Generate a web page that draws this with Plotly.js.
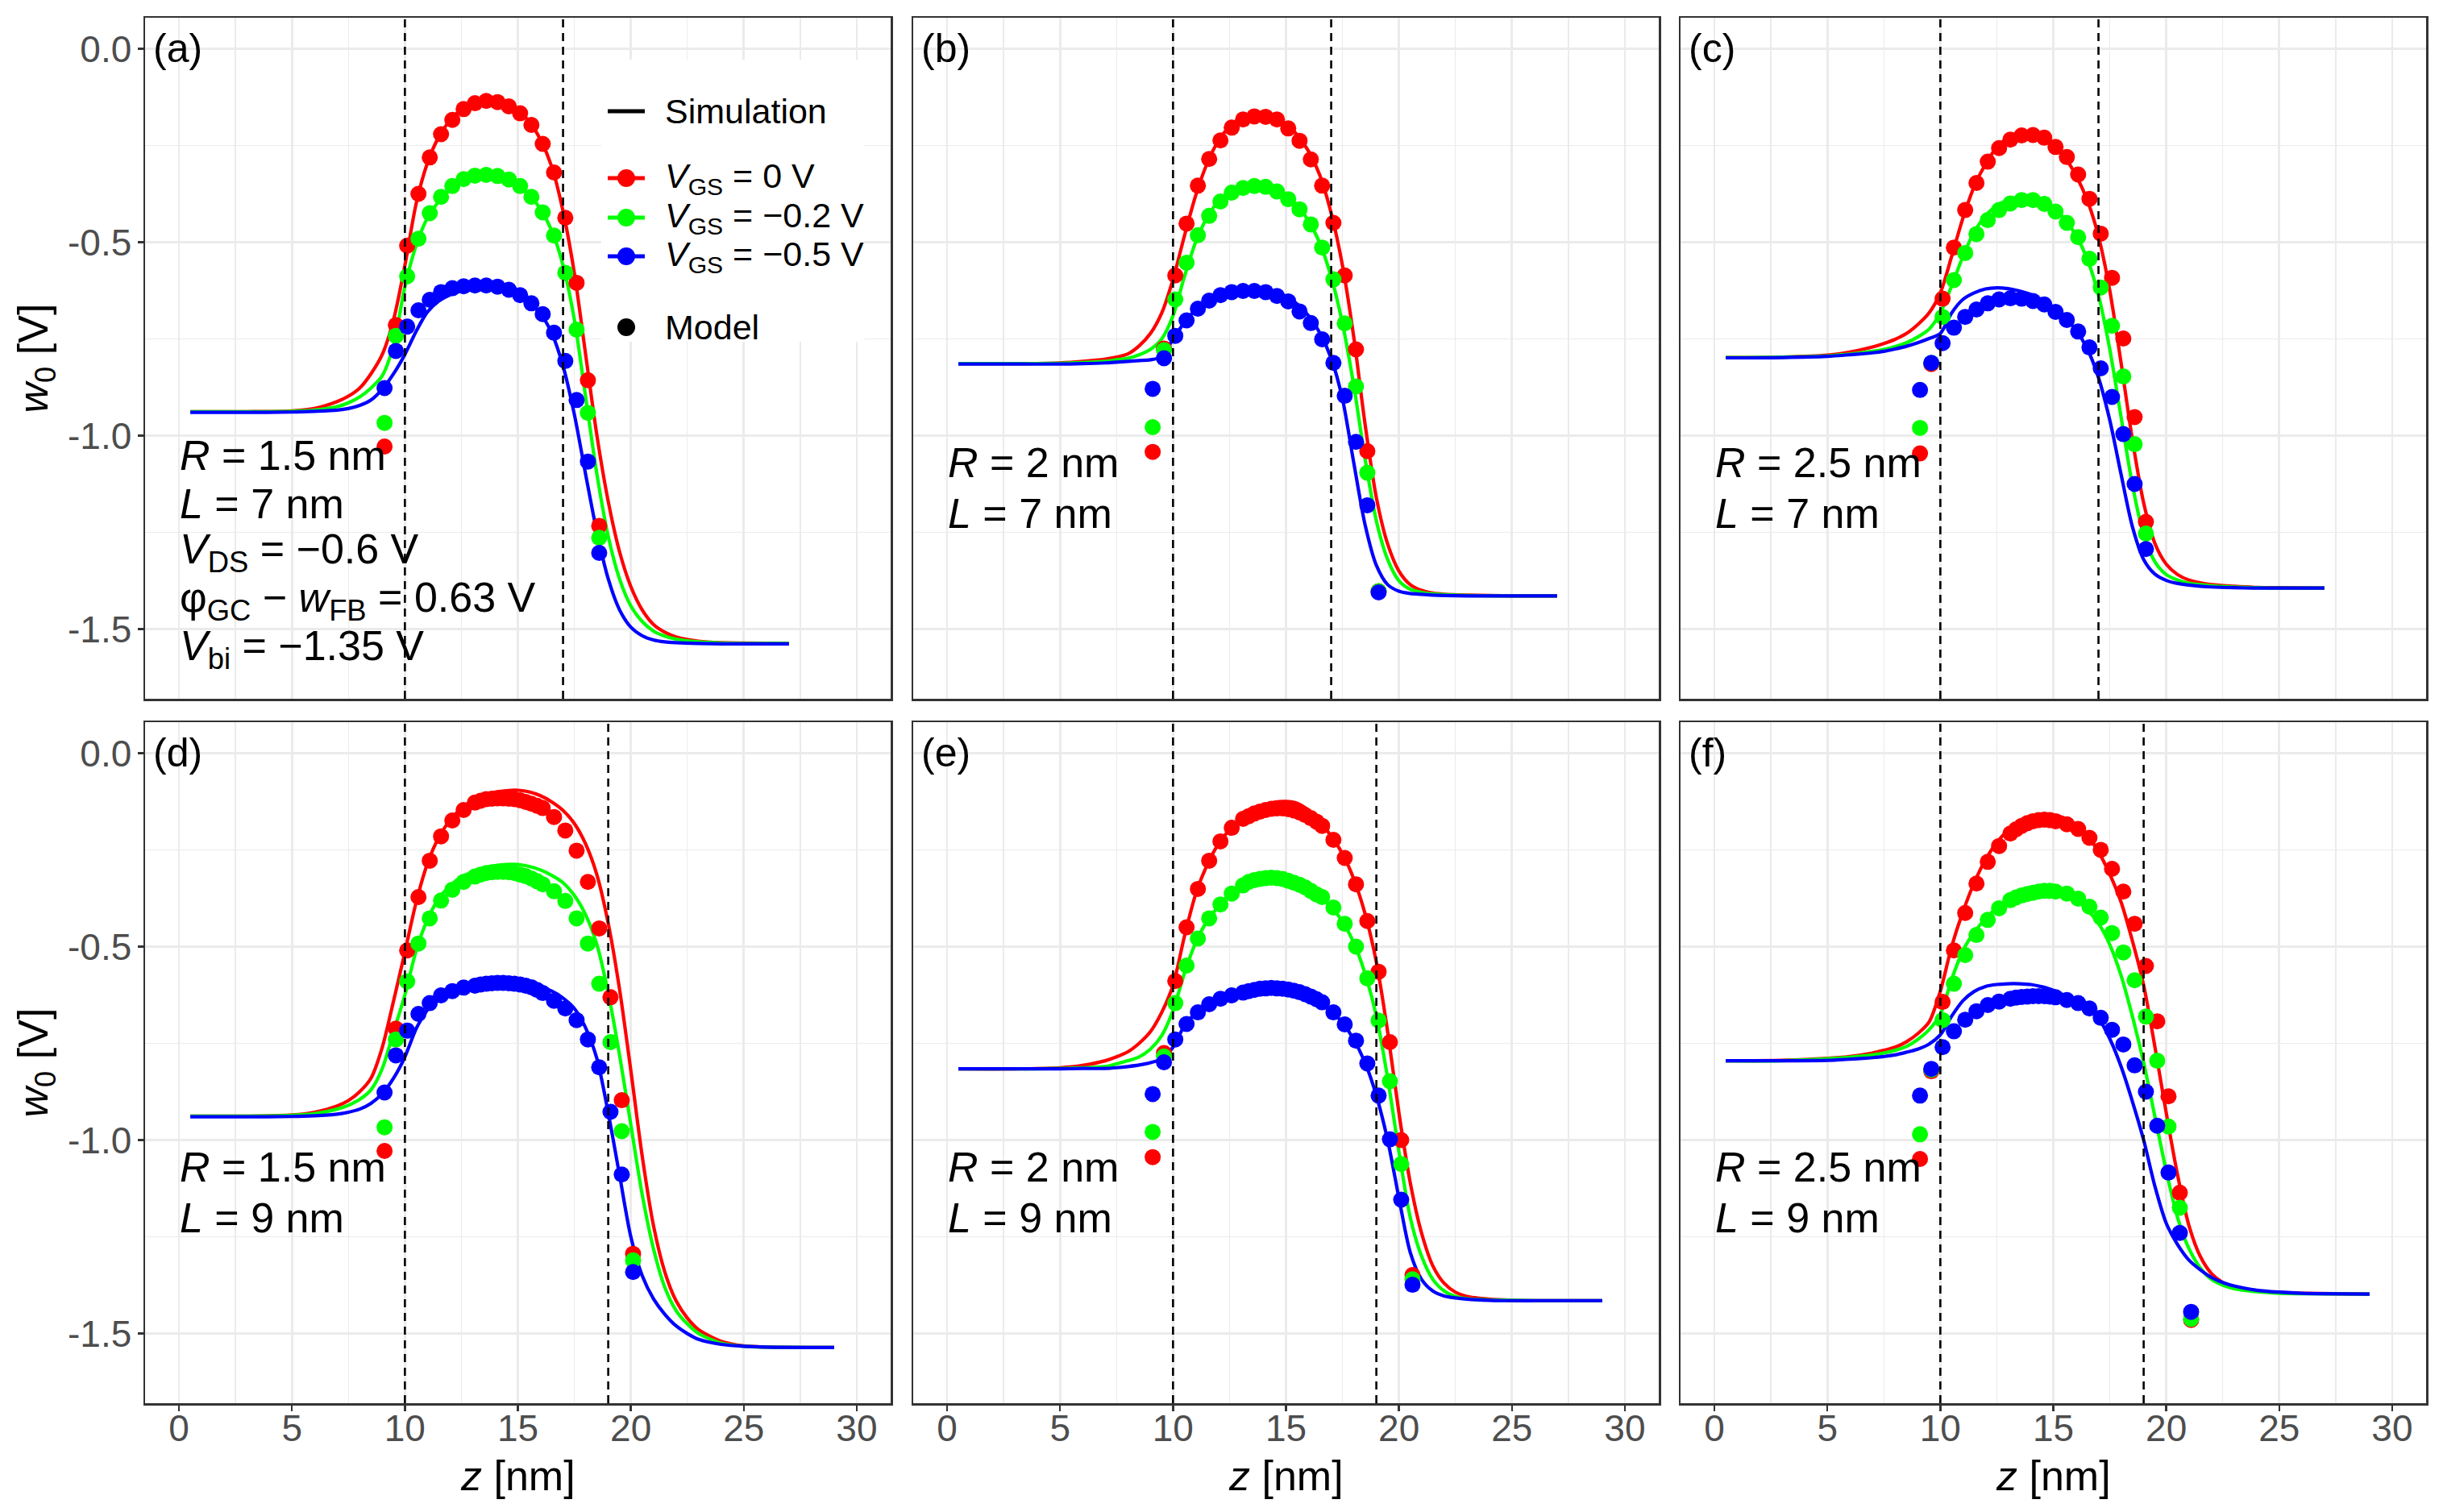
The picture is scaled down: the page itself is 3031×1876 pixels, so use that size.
<!DOCTYPE html>
<html>
<head>
<meta charset="utf-8">
<script src="https://cdn.plot.ly/plotly-3.0.1.min.js"></script>
<style>
  html, body { margin: 0; padding: 0; background: #ffffff; }
  #chart { width: 3031px; height: 1876px; }
</style>
</head>
<body>
<div id="chart"></div>
<script>

// ---------- data ----------

// simulation grids (L = 7 nm row, L = 9 nm row)
var zSim7 = [0.5, 3, 5, 6, 7, 7.5, 8, 8.5, 9, 9.5, 10, 10.5, 11, 11.5, 12, 12.5, 13, 13.5, 14, 14.5,
             15, 15.5, 16, 16.5, 17, 17.5, 18, 18.5, 19, 19.5, 20, 20.5, 21, 21.5, 22, 23, 24, 25, 27]
var zSim9 = [0.5, 3, 5, 6, 7, 7.5, 8, 8.5, 9, 9.5, 10, 10.5, 11, 11.5, 12, 12.5, 13, 13.5, 14, 14.5,
             15, 15.5, 16, 16.5, 17, 17.5, 18, 18.5, 19, 19.5, 20, 20.5, 21, 21.5, 22, 22.5, 23, 24, 25, 26, 29]

// model grids
var zModA  = [9.1, 9.6, 10.1, 10.6, 11.1, 11.6, 12.1, 12.6, 13.1, 13.6, 14.1, 14.6, 15.1, 15.6, 16.1, 16.6, 17.1, 17.6, 18.1, 18.6]
var zModBC = [9.1, 9.6, 10.1, 10.6, 11.1, 11.6, 12.1, 12.6, 13.1, 13.6, 14.1, 14.6, 15.1, 15.6, 16.1, 16.6, 17.1, 17.6, 18.1, 18.6, 19.1]
var zModD  = [9.1, 9.6, 10.1, 10.6, 11.1, 11.6, 12.1, 12.6, 13.1, 13.35, 13.6, 13.85, 14.1, 14.35, 14.6, 14.85, 15.1, 15.35, 15.6, 15.85,
              16.1, 16.6, 17.1, 17.6, 18.1, 18.6, 19.1, 19.6, 20.1]
var zModE  = [9.1, 9.6, 10.1, 10.6, 11.1, 11.6, 12.1, 12.6, 13.1, 13.35, 13.6, 13.85, 14.1, 14.35, 14.6, 14.85, 15.1, 15.35, 15.6, 15.85,
              16.1, 16.35, 16.6, 17.1, 17.6, 18.1, 18.6, 19.1, 19.6, 20.1, 20.6]
var zModF  = [9.1, 9.6, 10.1, 10.6, 11.1, 11.6, 12.1, 12.6, 13.1, 13.35, 13.6, 13.85, 14.1, 14.35, 14.6, 14.85, 15.1, 15.6, 16.1, 16.6,
              17.1, 17.6, 18.1, 18.6, 19.1, 19.6, 20.1, 20.6, 21.1]

// (a) R = 1.5 nm, L = 7 nm
var a_sim0  = [-0.938, -0.938, -0.936, -0.930, -0.912, -0.898, -0.877, -0.840, -0.790, -0.700, -0.560, -0.400, -0.295, -0.228, -0.185, -0.157, -0.141, -0.134, -0.135, -0.143,
               -0.160, -0.188, -0.235, -0.305, -0.420, -0.580, -0.790, -1.000, -1.170, -1.300, -1.390, -1.450, -1.488, -1.508, -1.520, -1.531, -1.535, -1.536, -1.537]
var a_sim02 = [-0.938, -0.938, -0.937, -0.934, -0.925, -0.915, -0.900, -0.877, -0.845, -0.765, -0.615, -0.508, -0.437, -0.395, -0.364, -0.345, -0.334, -0.329, -0.330, -0.337,
               -0.351, -0.376, -0.415, -0.470, -0.560, -0.700, -0.900, -1.100, -1.260, -1.370, -1.440, -1.480, -1.505, -1.518, -1.526, -1.533, -1.536, -1.537, -1.537]
var a_sim05 = [-0.940, -0.940, -0.939, -0.937, -0.934, -0.930, -0.922, -0.908, -0.880, -0.840, -0.790, -0.730, -0.680, -0.652, -0.636, -0.626, -0.621, -0.620, -0.621, -0.627,
               -0.638, -0.656, -0.685, -0.735, -0.820, -0.945, -1.100, -1.250, -1.370, -1.450, -1.495, -1.517, -1.528, -1.533, -1.535, -1.537, -1.538, -1.538, -1.538]
var a_mod0  = [-1.028, -0.714, -0.509, -0.375, -0.281, -0.221, -0.184, -0.156, -0.141, -0.135, -0.138, -0.149, -0.167, -0.197, -0.246, -0.320, -0.437, -0.605, -0.857, -1.233]
var a_mod02 = [-0.967, -0.742, -0.588, -0.491, -0.425, -0.383, -0.355, -0.337, -0.328, -0.326, -0.329, -0.338, -0.355, -0.383, -0.423, -0.483, -0.579, -0.726, -0.941, -1.264]
var a_mod05 = [-0.877, -0.781, -0.718, -0.676, -0.649, -0.629, -0.619, -0.614, -0.612, -0.612, -0.615, -0.623, -0.637, -0.658, -0.686, -0.734, -0.807, -0.908, -1.067, -1.303]

// (b) R = 2 nm, L = 7 nm
var b_sim0  = [-0.814, -0.814, -0.812, -0.808, -0.802, -0.797, -0.789, -0.768, -0.736, -0.683, -0.596, -0.485, -0.380, -0.298, -0.239, -0.202, -0.181, -0.172, -0.172, -0.179,
               -0.195, -0.223, -0.265, -0.327, -0.425, -0.560, -0.745, -0.970, -1.160, -1.280, -1.350, -1.385, -1.400, -1.407, -1.410, -1.412, -1.413, -1.414, -1.414]
var b_sim02 = [-0.814, -0.814, -0.813, -0.811, -0.808, -0.804, -0.800, -0.791, -0.777, -0.750, -0.690, -0.590, -0.500, -0.437, -0.395, -0.370, -0.357, -0.352, -0.354, -0.362,
               -0.378, -0.405, -0.445, -0.503, -0.590, -0.710, -0.870, -1.060, -1.220, -1.320, -1.375, -1.397, -1.405, -1.409, -1.411, -1.413, -1.414, -1.414, -1.414]
var b_sim05 = [-0.815, -0.815, -0.815, -0.814, -0.812, -0.810, -0.808, -0.806, -0.804, -0.796, -0.750, -0.708, -0.675, -0.651, -0.635, -0.626, -0.621, -0.620, -0.622, -0.628,
               -0.640, -0.660, -0.690, -0.735, -0.800, -0.905, -1.070, -1.230, -1.335, -1.385, -1.402, -1.408, -1.410, -1.412, -1.413, -1.414, -1.414, -1.414, -1.414]
var b_mod0  = [-1.042, -0.775, -0.586, -0.452, -0.354, -0.285, -0.237, -0.204, -0.183, -0.175, -0.176, -0.183, -0.206, -0.238, -0.286, -0.354, -0.450, -0.586, -0.777, -1.040, -1.402]
var b_mod02 = [-0.978, -0.779, -0.648, -0.553, -0.482, -0.432, -0.395, -0.372, -0.360, -0.355, -0.357, -0.369, -0.389, -0.415, -0.454, -0.514, -0.596, -0.710, -0.873, -1.096, -1.402]
var b_mod05 = [-0.879, -0.800, -0.742, -0.702, -0.672, -0.651, -0.637, -0.629, -0.626, -0.626, -0.629, -0.639, -0.653, -0.679, -0.709, -0.751, -0.812, -0.897, -1.016, -1.180, -1.405]

// (c) R = 2.5 nm, L = 7 nm
var c_sim0  = [-0.798, -0.797, -0.792, -0.784, -0.771, -0.762, -0.751, -0.736, -0.713, -0.683, -0.631, -0.537, -0.438, -0.356, -0.298, -0.255, -0.230, -0.217, -0.215, -0.225,
               -0.247, -0.280, -0.327, -0.391, -0.485, -0.625, -0.812, -1.010, -1.174, -1.279, -1.332, -1.359, -1.373, -1.380, -1.385, -1.389, -1.392, -1.393, -1.394]
var c_sim02 = [-0.798, -0.797, -0.794, -0.789, -0.782, -0.777, -0.770, -0.760, -0.745, -0.725, -0.683, -0.613, -0.537, -0.473, -0.432, -0.405, -0.391, -0.384, -0.386, -0.395,
               -0.412, -0.440, -0.482, -0.543, -0.637, -0.777, -0.952, -1.127, -1.256, -1.326, -1.359, -1.373, -1.381, -1.385, -1.388, -1.391, -1.393, -1.394, -1.394]
var c_sim05 = [-0.799, -0.798, -0.795, -0.791, -0.786, -0.782, -0.776, -0.769, -0.760, -0.749, -0.736, -0.683, -0.648, -0.631, -0.621, -0.618, -0.620, -0.626, -0.635, -0.649,
               -0.670, -0.694, -0.727, -0.775, -0.850, -0.960, -1.100, -1.235, -1.320, -1.358, -1.374, -1.382, -1.386, -1.389, -1.391, -1.393, -1.394, -1.394, -1.394]
var c_mod0  = [-1.046, -0.815, -0.646, -0.514, -0.417, -0.347, -0.292, -0.257, -0.235, -0.224, -0.223, -0.230, -0.254, -0.280, -0.325, -0.388, -0.478, -0.592, -0.749, -0.952, -1.223]
var c_mod02 = [-0.980, -0.812, -0.693, -0.598, -0.528, -0.479, -0.443, -0.417, -0.400, -0.391, -0.391, -0.401, -0.421, -0.450, -0.487, -0.543, -0.617, -0.716, -0.847, -1.022, -1.253]
var c_mod05 = [-0.882, -0.812, -0.761, -0.721, -0.693, -0.674, -0.658, -0.648, -0.645, -0.646, -0.652, -0.661, -0.680, -0.701, -0.731, -0.772, -0.826, -0.900, -0.996, -1.125, -1.293]

// (d) R = 1.5 nm, L = 9 nm
var d_sim0  = [-0.938, -0.938, -0.935, -0.928, -0.912, -0.898, -0.875, -0.840, -0.760, -0.640, -0.514, -0.385, -0.285, -0.218, -0.173, -0.143, -0.122, -0.109, -0.101, -0.097,
               -0.096, -0.100, -0.110, -0.126, -0.148, -0.182, -0.235, -0.315, -0.440, -0.610, -0.820, -1.040, -1.220, -1.340, -1.415, -1.460, -1.490, -1.520, -1.532, -1.535, -1.536]
var d_sim02 = [-0.938, -0.938, -0.936, -0.932, -0.920, -0.910, -0.895, -0.870, -0.815, -0.720, -0.625, -0.510, -0.430, -0.376, -0.343, -0.320, -0.307, -0.297, -0.291, -0.288,
               -0.288, -0.293, -0.302, -0.316, -0.335, -0.368, -0.418, -0.495, -0.620, -0.780, -0.960, -1.140, -1.280, -1.380, -1.440, -1.475, -1.500, -1.525, -1.533, -1.535, -1.536]
var d_sim05 = [-0.940, -0.940, -0.939, -0.937, -0.933, -0.928, -0.920, -0.905, -0.880, -0.840, -0.785, -0.712, -0.663, -0.630, -0.612, -0.603, -0.597, -0.595, -0.594, -0.594,
               -0.596, -0.600, -0.605, -0.615, -0.633, -0.660, -0.710, -0.790, -0.930, -1.090, -1.250, -1.350, -1.410, -1.450, -1.480, -1.500, -1.515, -1.528, -1.533, -1.535, -1.536]
var d_mod0  = [-1.028, -0.712, -0.510, -0.372, -0.278, -0.215, -0.174, -0.147, -0.128, -0.123, -0.119, -0.118, -0.117, -0.117, -0.118, -0.119, -0.122, -0.126, -0.131, -0.136,
               -0.142, -0.165, -0.200, -0.252, -0.333, -0.453, -0.631, -0.897, -1.294]
var d_mod02 = [-0.967, -0.740, -0.590, -0.492, -0.427, -0.381, -0.353, -0.333, -0.319, -0.314, -0.310, -0.308, -0.307, -0.307, -0.308, -0.310, -0.314, -0.318, -0.324, -0.331,
               -0.339, -0.357, -0.382, -0.427, -0.492, -0.596, -0.747, -0.977, -1.311]
var d_mod05 = [-0.877, -0.781, -0.717, -0.674, -0.646, -0.626, -0.615, -0.606, -0.601, -0.598, -0.596, -0.595, -0.594, -0.594, -0.595, -0.596, -0.598, -0.601, -0.605, -0.612,
               -0.620, -0.640, -0.660, -0.690, -0.740, -0.812, -0.927, -1.089, -1.341]

// (e) R = 2 nm, L = 9 nm
var e_sim0  = [-0.816, -0.816, -0.813, -0.807, -0.795, -0.785, -0.772, -0.750, -0.720, -0.670, -0.600, -0.475, -0.365, -0.290, -0.236, -0.198, -0.171, -0.150, -0.136, -0.127,
               -0.125, -0.130, -0.148, -0.178, -0.214, -0.260, -0.325, -0.415, -0.540, -0.720, -0.930, -1.110, -1.240, -1.325, -1.370, -1.393, -1.404, -1.411, -1.414, -1.415, -1.415]
var e_sim02 = [-0.816, -0.816, -0.815, -0.813, -0.810, -0.803, -0.795, -0.785, -0.765, -0.730, -0.665, -0.570, -0.490, -0.435, -0.397, -0.367, -0.347, -0.333, -0.325, -0.322,
               -0.324, -0.332, -0.347, -0.370, -0.397, -0.435, -0.490, -0.570, -0.680, -0.840, -1.030, -1.200, -1.300, -1.360, -1.390, -1.404, -1.410, -1.413, -1.414, -1.415, -1.415]
var e_sim05 = [-0.816, -0.816, -0.816, -0.815, -0.815, -0.813, -0.810, -0.806, -0.800, -0.790, -0.760, -0.705, -0.672, -0.651, -0.637, -0.627, -0.620, -0.614, -0.610, -0.608,
               -0.610, -0.616, -0.627, -0.642, -0.665, -0.697, -0.740, -0.800, -0.885, -1.000, -1.150, -1.290, -1.360, -1.390, -1.403, -1.408, -1.411, -1.414, -1.415, -1.415, -1.415]
var e_mod0  = [-1.044, -0.775, -0.589, -0.450, -0.351, -0.278, -0.228, -0.193, -0.170, -0.163, -0.156, -0.151, -0.147, -0.144, -0.143, -0.143, -0.145, -0.148, -0.153, -0.160,
               -0.168, -0.177, -0.188, -0.224, -0.271, -0.339, -0.434, -0.565, -0.747, -1.000, -1.349]
var e_mod02 = [-0.979, -0.784, -0.646, -0.549, -0.479, -0.427, -0.391, -0.363, -0.342, -0.333, -0.328, -0.325, -0.323, -0.322, -0.323, -0.325, -0.330, -0.335, -0.340, -0.347,
               -0.356, -0.365, -0.372, -0.399, -0.441, -0.500, -0.582, -0.691, -0.848, -1.062, -1.360]
var e_mod05 = [-0.881, -0.799, -0.740, -0.700, -0.670, -0.649, -0.635, -0.626, -0.619, -0.615, -0.612, -0.609, -0.608, -0.607, -0.608, -0.609, -0.611, -0.614, -0.618, -0.623,
               -0.629, -0.636, -0.644, -0.670, -0.701, -0.743, -0.802, -0.885, -0.998, -1.154, -1.374]

// (f) R = 2.5 nm, L = 9 nm
var f_sim0  = [-0.795, -0.794, -0.789, -0.784, -0.775, -0.768, -0.760, -0.746, -0.725, -0.695, -0.615, -0.500, -0.410, -0.335, -0.275, -0.231, -0.200, -0.180, -0.167, -0.161,
               -0.161, -0.168, -0.185, -0.213, -0.255, -0.313, -0.385, -0.485, -0.600, -0.760, -0.930, -1.090, -1.220, -1.300, -1.345, -1.368, -1.380, -1.390, -1.394, -1.396, -1.398]
var f_sim02 = [-0.795, -0.795, -0.790, -0.786, -0.780, -0.775, -0.768, -0.758, -0.740, -0.715, -0.675, -0.585, -0.510, -0.463, -0.428, -0.400, -0.380, -0.366, -0.357, -0.352,
               -0.353, -0.362, -0.378, -0.405, -0.440, -0.495, -0.575, -0.680, -0.800, -0.940, -1.080, -1.200, -1.280, -1.330, -1.360, -1.375, -1.384, -1.392, -1.396, -1.397, -1.398]
var f_sim05 = [-0.795, -0.795, -0.794, -0.791, -0.787, -0.784, -0.780, -0.773, -0.765, -0.752, -0.728, -0.680, -0.640, -0.616, -0.603, -0.598, -0.596, -0.596, -0.598, -0.604,
               -0.613, -0.626, -0.638, -0.655, -0.685, -0.738, -0.810, -0.900, -1.000, -1.120, -1.215, -1.270, -1.310, -1.335, -1.355, -1.368, -1.377, -1.388, -1.393, -1.396, -1.398]
var f_mod0  = [-1.049, -0.822, -0.643, -0.510, -0.413, -0.337, -0.281, -0.240, -0.208, -0.197, -0.188, -0.181, -0.176, -0.173, -0.172, -0.173, -0.176, -0.184, -0.196, -0.219,
               -0.250, -0.299, -0.358, -0.441, -0.550, -0.693, -0.887, -1.136, -1.465]
var f_mod02 = [-0.985, -0.818, -0.690, -0.596, -0.522, -0.470, -0.431, -0.401, -0.380, -0.373, -0.368, -0.364, -0.361, -0.358, -0.356, -0.356, -0.358, -0.363, -0.376, -0.397,
               -0.425, -0.465, -0.515, -0.587, -0.681, -0.795, -0.965, -1.175, -1.462]
var f_mod05 = [-0.885, -0.816, -0.760, -0.719, -0.689, -0.667, -0.651, -0.642, -0.635, -0.632, -0.630, -0.629, -0.628, -0.628, -0.628, -0.629, -0.631, -0.638, -0.646, -0.660,
               -0.684, -0.715, -0.753, -0.807, -0.875, -0.963, -1.084, -1.240, -1.444]

// gate edges (dashed lines) per panel
var gateStart = [10, 10, 10, 10, 10, 10]
var gateEnd   = [17, 17, 17, 19, 19, 19]

// texts
var panelLabels = ['(a)', '(b)', '(c)', '(d)', '(e)', '(f)']
var radiusText  = ['1.5', '2', '2.5', '1.5', '2', '2.5']
var lengthText  = ['7', '7', '7', '9', '9', '9']
var vgsNames    = ['<i>V</i><sub>GS</sub> = 0 V', '<i>V</i><sub>GS</sub> = \u22120.2 V', '<i>V</i><sub>GS</sub> = \u22120.5 V']
var extraNotes  = ['<i>V</i><sub>DS</sub> = \u22120.6 V', '\u03c6<sub>GC</sub> \u2212 <i>w</i><sub>FB</sub> = 0.63 V', '<i>V</i><sub>bi</sub> = \u22121.35 V']

// axes
var xTicks = [0, 5, 10, 15, 20, 25, 30]
var xTickText = ['0', '5', '10', '15', '20', '25', '30']
var xMinor = [2.5, 7.5, 12.5, 17.5, 22.5, 27.5]
var yTicks = [0, -0.5, -1, -1.5]
var yTickText = ['0.0', '-0.5', '-1.0', '-1.5']
var yMinor = [-0.25, -0.75, -1.25]

var seriesColors = ['#ff0000', '#00ff00', '#0000ff']



// ---------- layout constants ----------
const W = 3031, H = 1876
const FONT = 'Liberation Sans, Arial, Helvetica, sans-serif'
const colLeft  = [180, 1133, 2085]
const colRight = [1105, 2058, 3010]
const rowTop    = [22, 896]
const rowBottom = [867, 1741]

function px (x) { return x / W }
function py (y) { return 1 - y / H }

var panels = [
    {simZ: zSim7, sim: [a_sim0, a_sim02, a_sim05], modZ: zModA,  mod: [a_mod0, a_mod02, a_mod05]},
    {simZ: zSim7, sim: [b_sim0, b_sim02, b_sim05], modZ: zModBC, mod: [b_mod0, b_mod02, b_mod05]},
    {simZ: zSim7, sim: [c_sim0, c_sim02, c_sim05], modZ: zModBC, mod: [c_mod0, c_mod02, c_mod05]},
    {simZ: zSim9, sim: [d_sim0, d_sim02, d_sim05], modZ: zModD,  mod: [d_mod0, d_mod02, d_mod05]},
    {simZ: zSim9, sim: [e_sim0, e_sim02, e_sim05], modZ: zModE,  mod: [e_mod0, e_mod02, e_mod05]},
    {simZ: zSim9, sim: [f_sim0, f_sim02, f_sim05], modZ: zModF,  mod: [f_mod0, f_mod02, f_mod05]},
]

var traces = []
var shapes = []
var annotations = []

var layout = {
    width: W,
    height: H,
    margin: {l: 0, r: 0, t: 0, b: 0},
    paper_bgcolor: '#ffffff',
    plot_bgcolor: '#ffffff',
    showlegend: false,
    font: {family: FONT, color: '#000000'},
}


for (var i = 0; i < panels.length; i++) {

    var p = panels[i]
    var col = i % 3
    var row = Math.floor(i / 3)
    var sfx = i == 0 ? '' : String(i + 1)
    var xa = 'x' + sfx, ya = 'y' + sfx

    // simulation curves
    for (var k = 0; k < 3; k++) {
        traces.push({
            type: 'scatter', mode: 'lines',
            x: p.simZ, y: p.sim[k],
            xaxis: xa, yaxis: ya,
            line: {color: seriesColors[k], width: 4.2, shape: 'spline', smoothing: 0.8},
            hoverinfo: 'skip',
        })
    }
    // model points
    for (var k = 0; k < 3; k++) {
        traces.push({
            type: 'scatter', mode: 'markers',
            x: p.modZ, y: p.mod[k],
            xaxis: xa, yaxis: ya,
            marker: {color: seriesColors[k], size: 20, line: {width: 0}},
            hoverinfo: 'skip',
        })
    }

    var bottomRow = row == 1
    var leftCol = col == 0

    var xax = {
        domain: [px(colLeft[col]), px(colRight[col])],
        anchor: ya,
        range: [-1.5, 31.5],
        tickmode: 'array', tickvals: xTicks, ticktext: xTickText,
        ticks: bottomRow ? 'outside' : '',
        ticklen: 7, tickwidth: 2.5, tickcolor: '#333333',
        showgrid: true, gridcolor: '#ebebeb', gridwidth: 2.7,
        minor: {tickmode: 'array', tickvals: xMinor, showgrid: true, gridcolor: '#ebebeb', gridwidth: 1.3, ticks: ''},
        zeroline: false,
        showline: true, mirror: true, linecolor: '#333333', linewidth: 2.5,
        automargin: false,
        fixedrange: true,
        showticklabels: bottomRow,
    }
    if (bottomRow) {
        xax.tickfont = {family: FONT, size: 46, color: '#4d4d4d'}
        xax.ticklabelstandoff = -18
    }
    layout['xaxis' + sfx] = xax

    var yax = {
        domain: [py(rowBottom[row]), py(rowTop[row])],
        anchor: xa,
        range: [-1.68, 0.08],
        tickmode: 'array', tickvals: yTicks, ticktext: yTickText,
        ticks: leftCol ? 'outside' : '',
        ticklen: 7, tickwidth: 2.5, tickcolor: '#333333',
        showgrid: true, gridcolor: '#ebebeb', gridwidth: 2.7,
        minor: {tickmode: 'array', tickvals: yMinor, showgrid: true, gridcolor: '#ebebeb', gridwidth: 1.3, ticks: ''},
        zeroline: false,
        showline: true, mirror: true, linecolor: '#333333', linewidth: 2.5,
        automargin: false,
        fixedrange: true,
        showticklabels: leftCol,
    }
    if (leftCol) {
        yax.tickfont = {family: FONT, size: 46, color: '#4d4d4d'}
        yax.ticklabelstandoff = -2
    }
    layout['yaxis' + sfx] = yax

    // gate edges
    var gates = [gateStart[i], gateEnd[i]]
    for (var g = 0; g < 2; g++) {
        shapes.push({
            type: 'line', layer: 'above',
            xref: xa, yref: ya + ' domain',
            x0: gates[g], x1: gates[g], y0: 0, y1: 1,
            line: {color: '#000000', width: 2.6, dash: '10px,7px'},
        })
    }

    // panel label
    annotations.push({
        xref: xa, yref: ya, x: -1.2, y: 0.0,
        xanchor: 'left', yanchor: 'middle', showarrow: false,
        text: panelLabels[i],
        font: {family: FONT, size: 50, color: '#000000'},
    })

    // parameter notes
    var notes = ['<i>R</i> = ' + radiusText[i] + ' nm', '<i>L</i> = ' + lengthText[i] + ' nm']
    var noteY = [-1.07, -1.2]
    if (i == 0) {
        notes = notes.concat(extraNotes)
        noteY = [-1.05, -1.175, -1.3, -1.425, -1.55]
    }
    for (var n = 0; n < notes.length; n++) {
        annotations.push({
            xref: xa, yref: ya, x: -0.05, y: noteY[n],
            xanchor: 'left', yanchor: 'middle', showarrow: false,
            text: notes[n],
            font: {family: FONT, size: 52, color: '#000000'},
        })
    }
}

// axis titles
for (var r = 0; r < 2; r++) {
    annotations.push({
        xref: 'paper', yref: 'paper',
        x: px(44), y: py((rowTop[r] + rowBottom[r]) / 2),
        xanchor: 'center', yanchor: 'middle', textangle: -90, showarrow: false,
        text: '<i>w</i><sub>0</sub> [V]',
        font: {family: FONT, size: 52, color: '#000000'},
    })
}
for (var c = 0; c < 3; c++) {
    annotations.push({
        xref: 'paper', yref: 'paper',
        x: px((colLeft[c] + colRight[c]) / 2), y: py(1831),
        xanchor: 'center', yanchor: 'middle', showarrow: false,
        text: '<i>z</i> [nm]',
        font: {family: FONT, size: 52, color: '#000000'},
    })
}


// legend drawn by hand inside panel (a)
shapes.push({
    type: 'rect', layer: 'above', xref: 'paper', yref: 'paper',
    x0: px(746), x1: px(1072), y0: py(424), y1: py(74),
    fillcolor: '#ffffff', line: {width: 0},
})

var legendKeyX0 = 754, legendKeyX1 = 800, legendDotX = 777, legendTextX = 823
var legendRows = [138, 221, 270, 318, 406]
var legendText = ['Simulation'].concat(vgsNames).concat(['Model'])

// Simulation key (line only)
shapes.push({
    type: 'line', layer: 'above', xref: 'paper', yref: 'paper',
    x0: px(legendKeyX0), x1: px(legendKeyX1), y0: py(legendRows[0]), y1: py(legendRows[0]),
    line: {color: '#000000', width: 5},
})
// colour keys (line + dot)
for (var k = 0; k < 3; k++) {
    var yy = legendRows[k + 1]
    shapes.push({
        type: 'line', layer: 'above', xref: 'paper', yref: 'paper',
        x0: px(legendKeyX0), x1: px(legendKeyX1), y0: py(yy), y1: py(yy),
        line: {color: seriesColors[k], width: 5},
    })
    shapes.push({
        type: 'circle', layer: 'above', xref: 'paper', yref: 'paper',
        x0: px(legendDotX - 11), x1: px(legendDotX + 11), y0: py(yy + 11), y1: py(yy - 11),
        fillcolor: seriesColors[k], line: {width: 0},
    })
}
// Model key (dot only)
shapes.push({
    type: 'circle', layer: 'above', xref: 'paper', yref: 'paper',
    x0: px(legendDotX - 11), x1: px(legendDotX + 11), y0: py(legendRows[4] + 11), y1: py(legendRows[4] - 11),
    fillcolor: '#000000', line: {width: 0},
})

for (var n = 0; n < legendText.length; n++) {
    annotations.push({
        xref: 'paper', yref: 'paper',
        x: px(legendTextX), y: py(legendRows[n]),
        xanchor: 'left', yanchor: 'middle', showarrow: false,
        text: legendText[n],
        font: {family: FONT, size: 43, color: '#000000'},
    })
}

layout.shapes = shapes
layout.annotations = annotations

Plotly.newPlot('chart', traces, layout, {displayModeBar: false, staticPlot: true})

</script>
</body>
</html>
